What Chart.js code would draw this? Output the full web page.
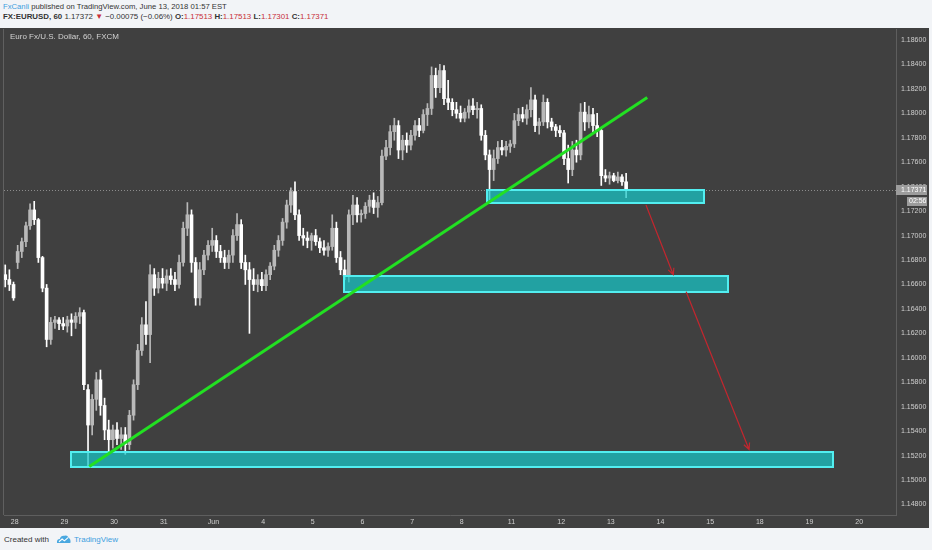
<!DOCTYPE html>
<html>
<head>
<meta charset="utf-8">
<script src="https://cdn.jsdelivr.net/npm/chart.js@4.4.1/dist/chart.umd.min.js"></script>
<style>
  html, body { margin: 0; padding: 0; }
  body { width: 932px; height: 550px; background: #f2f4f7; font-family: "Liberation Sans", Arial, sans-serif; position: relative; overflow: hidden; }
  .hdr { position: absolute; left: 3px; color: #333; white-space: nowrap; }
  #hdr1 { top: 2px; font-size: 7.7px; }
  #hdr2 { top: 12px; font-size: 7.9px; }
  .blue { color: #3d9ee0; }
  .red { color: #c8303a; }
  #panel { position: absolute; left: 0; top: 28px; width: 929px; height: 500px; background: #404040; }
  #footer { position: absolute; left: 4px; top: 534px; font-size: 8px; color: #333; display: flex; align-items: center; }
  #footer svg { margin: 0 3px 0 7px; }
</style>
</head>
<body>
<div class="hdr" id="hdr1"><span class="blue">FxCanli</span> published on TradingView.com, June 13, 2018 01:57 EST</div>
<div class="hdr" id="hdr2"><b>FX:EURUSD, 60</b> 1.17372 <span class="red">▼</span> −0.00075 (−0.06%) <b>O:</b><span class="red">1.17513</span> <b>H:</b><span class="red">1.17513</span> <b>L:</b><span class="red">1.17301</span> <b>C:</b><span class="red">1.17371</span></div>
<div id="panel"><canvas id="c" width="929" height="500"></canvas></div>
<div id="footer">Created with
  <svg width="15" height="10" viewBox="0 0 16 11"><path d="M1 10 Q0 6 4 5.5 Q5 1.5 9 2 Q12 0.5 13.5 4 Q16.5 5 15.5 10 Z" fill="#4aa8e0"/><path d="M3 8.5 L6.5 5.5 L9 7.5 L13 4" stroke="#fff" stroke-width="1.2" fill="none"/></svg>
  <span class="blue">TradingView</span></div>
<script>
// 2-hour candles, EURUSD
const opens = [
  1.1668,1.1664,1.1660,1.1678,1.1687,1.1695,1.1708,1.1721,1.1713,1.1682,
  1.1657,1.1615,1.1629,1.1631,1.1628,1.1626,1.1631,1.1629,1.1634,1.1637,
  1.1574,1.1545,1.1566,1.1582,1.1561,1.1541,1.1533,1.1541,1.1534,1.1537,
  1.1529,1.1553,1.1578,1.1606,1.1627,1.1619,1.1668,1.1657,1.1665,1.1661,
  1.1667,1.1664,1.1660,1.1678,1.1706,1.1717,1.1678,1.1649,1.1672,1.1684,
  1.1692,1.1696,1.1687,1.1682,1.1678,1.1684,1.1700,1.1709,1.1678,1.1672,
  1.1664,1.1660,1.1664,1.1659,1.1668,1.1675,1.1688,1.1696,1.1711,1.1725,
  1.1736,1.1717,1.1700,1.1698,1.1696,1.1700,1.1695,1.1690,1.1688,1.1691,
  1.1706,1.1682,1.1672,1.1667,1.1717,1.1725,1.1717,1.1718,1.1724,1.1729,
  1.1723,1.1727,1.1765,1.1772,1.1785,1.1790,1.1770,1.1778,1.1774,1.1782,
  1.1790,1.1786,1.1799,1.1804,1.1831,1.1821,1.1835,1.1812,1.1809,1.1803,
  1.1800,1.1796,1.1801,1.1806,1.1803,1.1804,1.1782,1.1766,1.1754,1.1763,
  1.1772,1.1770,1.1773,1.1775,1.1794,1.1799,1.1796,1.1803,1.1811,1.1790,
  1.1793,1.1809,1.1793,1.1789,1.1786,1.1784,1.1763,1.1754,1.1770,1.1766,
  1.1801,1.1793,1.1799,1.1790,1.1786,1.1749,1.1747,1.1749,1.1745,1.1748,
  1.1744
];
const highs = [
  1.1676,1.1672,1.1662,1.1692,1.1698,1.1711,1.1726,1.1728,1.1714,1.1683,
  1.1660,1.1633,1.1634,1.1633,1.1633,1.1634,1.1636,1.1637,1.1641,1.1639,
  1.1578,1.1570,1.1588,1.1590,1.1567,1.1549,1.1545,1.1547,1.1543,1.1543,
  1.1557,1.1582,1.1611,1.1633,1.1646,1.1676,1.1673,1.1670,1.1673,1.1672,
  1.1673,1.1670,1.1684,1.1711,1.1727,1.1721,1.1682,1.1678,1.1688,1.1696,
  1.1706,1.1700,1.1692,1.1688,1.1688,1.1705,1.1718,1.1713,1.1684,1.1678,
  1.1673,1.1668,1.1670,1.1672,1.1678,1.1692,1.1700,1.1714,1.1729,1.1739,
  1.1744,1.1721,1.1706,1.1703,1.1702,1.1705,1.1698,1.1696,1.1694,1.1717,
  1.1711,1.1687,1.1680,1.1721,1.1733,1.1731,1.1721,1.1727,1.1733,1.1735,
  1.1732,1.1770,1.1778,1.1790,1.1796,1.1794,1.1782,1.1784,1.1786,1.1794,
  1.1796,1.1803,1.1808,1.1838,1.1837,1.1840,1.1839,1.1827,1.1812,1.1809,
  1.1806,1.1804,1.1811,1.1812,1.1809,1.1807,1.1786,1.1770,1.1770,1.1777,
  1.1778,1.1777,1.1778,1.1800,1.1804,1.1805,1.1807,1.1821,1.1815,1.1796,
  1.1815,1.1812,1.1796,1.1791,1.1790,1.1786,1.1774,1.1777,1.1778,1.1808,
  1.1809,1.1806,1.1804,1.1800,1.1788,1.1754,1.1752,1.1751,1.1752,1.1750,
  1.1751
];
const lows = [
  1.1658,1.1655,1.1647,1.1673,1.1682,1.1691,1.1705,1.1709,1.1678,1.1654,
  1.1609,1.1611,1.1624,1.1623,1.1623,1.1621,1.1618,1.1624,1.1628,1.1574,
  1.1511,1.1537,1.1557,1.1553,1.1533,1.1523,1.1526,1.1529,1.1525,1.1521,
  1.1525,1.1549,1.1574,1.1602,1.1611,1.1596,1.1651,1.1653,1.1657,1.1655,
  1.1660,1.1655,1.1657,1.1675,1.1700,1.1670,1.1643,1.1643,1.1668,1.1680,
  1.1687,1.1682,1.1678,1.1673,1.1673,1.1678,1.1696,1.1673,1.1660,1.1620,
  1.1655,1.1654,1.1655,1.1655,1.1664,1.1672,1.1683,1.1692,1.1706,1.1719,
  1.1713,1.1696,1.1692,1.1690,1.1688,1.1692,1.1686,1.1684,1.1683,1.1688,
  1.1678,1.1668,1.1664,1.1662,1.1709,1.1711,1.1711,1.1714,1.1719,1.1718,
  1.1715,1.1725,1.1762,1.1766,1.1778,1.1763,1.1762,1.1768,1.1770,1.1778,
  1.1781,1.1784,1.1790,1.1799,1.1813,1.1817,1.1807,1.1803,1.1798,1.1796,
  1.1793,1.1793,1.1796,1.1799,1.1796,1.1778,1.1762,1.1729,1.1745,1.1759,
  1.1766,1.1765,1.1768,1.1772,1.1790,1.1793,1.1791,1.1797,1.1785,1.1783,
  1.1790,1.1788,1.1786,1.1781,1.1781,1.1758,1.1743,1.1749,1.1760,1.1762,
  1.1786,1.1788,1.1785,1.1781,1.1741,1.1744,1.1742,1.1744,1.1743,1.1741,
  1.1731
];
const closes = [
  1.1664,1.1660,1.1649,1.1687,1.1695,1.1708,1.1721,1.1713,1.1682,1.1657,
  1.1615,1.1629,1.1631,1.1628,1.1626,1.1631,1.1629,1.1634,1.1637,1.1578,
  1.1545,1.1566,1.1582,1.1561,1.1541,1.1533,1.1541,1.1534,1.1537,1.1529,
  1.1553,1.1578,1.1606,1.1627,1.1619,1.1668,1.1657,1.1665,1.1661,1.1667,
  1.1664,1.1660,1.1678,1.1706,1.1717,1.1678,1.1649,1.1672,1.1684,1.1692,
  1.1696,1.1687,1.1682,1.1678,1.1684,1.1700,1.1709,1.1678,1.1672,1.1664,
  1.1660,1.1664,1.1659,1.1668,1.1675,1.1688,1.1696,1.1711,1.1725,1.1736,
  1.1717,1.1700,1.1698,1.1696,1.1700,1.1695,1.1690,1.1688,1.1691,1.1706,
  1.1682,1.1672,1.1667,1.1717,1.1725,1.1717,1.1718,1.1724,1.1729,1.1723,
  1.1727,1.1765,1.1772,1.1785,1.1790,1.1770,1.1778,1.1774,1.1782,1.1790,
  1.1786,1.1799,1.1804,1.1831,1.1821,1.1835,1.1812,1.1809,1.1803,1.1800,
  1.1796,1.1801,1.1806,1.1803,1.1804,1.1782,1.1766,1.1754,1.1763,1.1772,
  1.1770,1.1773,1.1775,1.1794,1.1799,1.1796,1.1803,1.1811,1.1790,1.1793,
  1.1809,1.1793,1.1789,1.1786,1.1784,1.1763,1.1754,1.1770,1.1766,1.1801,
  1.1793,1.1799,1.1790,1.1786,1.1749,1.1747,1.1749,1.1745,1.1748,1.1744,
  1.17371
];

// time axis (bar index where each day starts)
const dayLabels = ['28','29','30','31','Jun','4','5','6','7','8','11','12','13','14','15','18','19','20'];
const dayStartBar = [2.3,14.3,26.3,38.3,50.3,62.3,74.3,86.3,98.3,110.3,122.3,134.3,146.3,158.3,170.3,182.3,194.3,206.3];

const priceTicks = [1.148,1.150,1.152,1.154,1.156,1.158,1.160,1.162,1.164,1.166,1.168,1.170,1.172,1.174,1.176,1.178,1.180,1.182,1.184,1.186];

// drawings
const trendX = [20.3, 155.1];
const trendY = [1.1511, 1.1813];

const zoneStart = [116.4, 81.9, 15.9];
const zoneEnd = [168.8, 174.6, 200.0];
const zoneTop = [1.1737, 1.1667, 1.1523];
const zoneBottom = [1.1727, 1.1654, 1.1511];

const arrowFromX = [154.8, 164.5];
const arrowFromY = [1.1725, 1.1654];
const arrowToX = [161.4, 179.7];
const arrowToY = [1.1668, 1.1525];

const UP = '#b9b9b9';
const DOWN = '#ffffff';
const candleColor = c => closes[c.dataIndex] >= opens[c.dataIndex] ? UP : DOWN;

const overlay = {
    id: 'overlay',
    beforeDatasetsDraw(chart) {
        const { ctx, chartArea: a, scales: { y } } = chart;
        const py = Math.round(y.getPixelForValue(closes[closes.length - 1])) + 0.5;
        ctx.save();
        ctx.strokeStyle = '#8c8c8c';
        ctx.lineWidth = 1;
        ctx.setLineDash([1, 2]);
        ctx.beginPath();
        ctx.moveTo(a.left, py);
        ctx.lineTo(a.right, py);
        ctx.stroke();
        ctx.restore();
    },
    beforeDatasetDraw(chart, args) {
        if (args.index !== 2) return;
        const { ctx, chartArea: a, scales: { x, y } } = chart;
        ctx.save();
        ctx.beginPath();
        ctx.rect(a.left, a.top, a.right - a.left, a.bottom - a.top);
        ctx.clip();
        zoneStart.forEach((s, i) => {
            const x1 = Math.round(x.getPixelForValue(s));
            const x2 = Math.round(x.getPixelForValue(zoneEnd[i]));
            const y1 = Math.round(y.getPixelForValue(zoneTop[i]));
            const y2 = Math.round(y.getPixelForValue(zoneBottom[i]));
            ctx.fillStyle = 'rgba(22, 198, 200, 0.72)';
            ctx.fillRect(x1, y1, x2 - x1, y2 - y1);
            ctx.strokeStyle = '#52eef0';
            ctx.lineWidth = 2;
            ctx.strokeRect(x1, y1, x2 - x1, y2 - y1);
        });
        ctx.restore();
    },
    afterDatasetsDraw(chart) {
        const { ctx, scales: { x, y } } = chart;
        ctx.save();
        ctx.strokeStyle = '#c3262e';
        ctx.lineWidth = 1.2;
        arrowFromX.forEach((fx, i) => {
            const x1 = x.getPixelForValue(fx), y1 = y.getPixelForValue(arrowFromY[i]);
            const x2 = x.getPixelForValue(arrowToX[i]), y2 = y.getPixelForValue(arrowToY[i]);
            const ang = Math.atan2(y2 - y1, x2 - x1);
            ctx.beginPath();
            ctx.moveTo(x1, y1);
            ctx.lineTo(x2, y2);
            ctx.moveTo(x2 - 7 * Math.cos(ang - 0.45), y2 - 7 * Math.sin(ang - 0.45));
            ctx.lineTo(x2, y2);
            ctx.lineTo(x2 - 7 * Math.cos(ang + 0.45), y2 - 7 * Math.sin(ang + 0.45));
            ctx.stroke();
        });
        ctx.restore();
    },
    afterDraw(chart) {
        const { ctx, chartArea: a, scales: { y } } = chart;
        ctx.save();
        // left edge of pane
        ctx.strokeStyle = '#606060';
        ctx.lineWidth = 1;
        ctx.beginPath();
        ctx.moveTo(a.left - 0.5, a.top);
        ctx.lineTo(a.left - 0.5, a.bottom);
        ctx.stroke();
        // symbol title
        ctx.fillStyle = '#d2d2d2';
        ctx.font = '8px "Liberation Sans", Arial, sans-serif';
        ctx.textBaseline = 'middle';
        ctx.fillText('Euro Fx/U.S. Dollar, 60, FXCM', 10, 9);
        // last price label
        const last = closes[closes.length - 1];
        const py = Math.round(y.getPixelForValue(last));
        ctx.fillStyle = '#9c9c9c';
        ctx.fillRect(a.right, py - 5, 31, 10);
        ctx.fillRect(a.right + 11, py + 7, 20, 9);
        ctx.fillStyle = '#ffffff';
        ctx.font = '7px "Liberation Sans", Arial, sans-serif';
        ctx.fillText(last.toFixed(5), a.right + 5, py);
        ctx.fillText('02:56', a.right + 13, py + 11.5);
        ctx.restore();
    }
};

const axisFont = { family: '"Liberation Sans", Arial, sans-serif', size: 7 };

new Chart(document.getElementById('c'), {
    type: 'bar',
    data: {
        datasets: [
            {
                label: 'wick',
                data: highs.map((h, i) => ({ x: i, y: [lows[i], h] })),
                backgroundColor: candleColor,
                barThickness: 1,
                grouped: false,
                order: 3
            },
            {
                label: 'body',
                data: opens.map((o, i) => ({ x: i, y: [o, closes[i]] })),
                backgroundColor: candleColor,
                barThickness: 3,
                minBarLength: 1,
                grouped: false,
                order: 2
            },
            {
                type: 'line',
                label: 'trend',
                data: trendX.map((v, i) => ({ x: v, y: trendY[i] })),
                borderColor: '#22e022',
                borderWidth: 3,
                pointRadius: 0,
                order: 1
            }
        ]
    },
    options: {
        responsive: false,
        devicePixelRatio: 1,
        animation: false,
        layout: { padding: { left: 4, top: 1, right: 0, bottom: 0 } },
        scales: {
            x: {
                type: 'linear',
                min: -0.3,
                max: 215.2,
                offset: false,
                grid: { display: false, drawTicks: false },
                border: { display: true, color: '#5e5e5e' },
                afterBuildTicks: s => { s.ticks = dayStartBar.map(v => ({ value: v })); },
                afterFit: s => { s.height = 13; s.paddingLeft = 0; s.paddingRight = 0; },
                ticks: {
                    autoSkip: false,
                    maxRotation: 0,
                    padding: 3,
                    color: '#cfcfcf',
                    font: axisFont,
                    callback: (v, i) => dayLabels[i]
                }
            },
            y: {
                position: 'right',
                min: 1.14714,
                max: 1.18690,
                grid: { display: false, drawTicks: false },
                border: { display: true, color: '#5e5e5e' },
                afterBuildTicks: s => { s.ticks = priceTicks.map(v => ({ value: v })); },
                afterFit: s => { s.width = 33; s.paddingTop = 0; s.paddingBottom = 0; },
                ticks: {
                    padding: 5,
                    color: '#cfcfcf',
                    font: axisFont,
                    callback: v => v.toFixed(5)
                }
            }
        },
        plugins: {
            legend: { display: false },
            tooltip: { enabled: false }
        }
    },
    plugins: [overlay]
});
</script>
</body>
</html>
